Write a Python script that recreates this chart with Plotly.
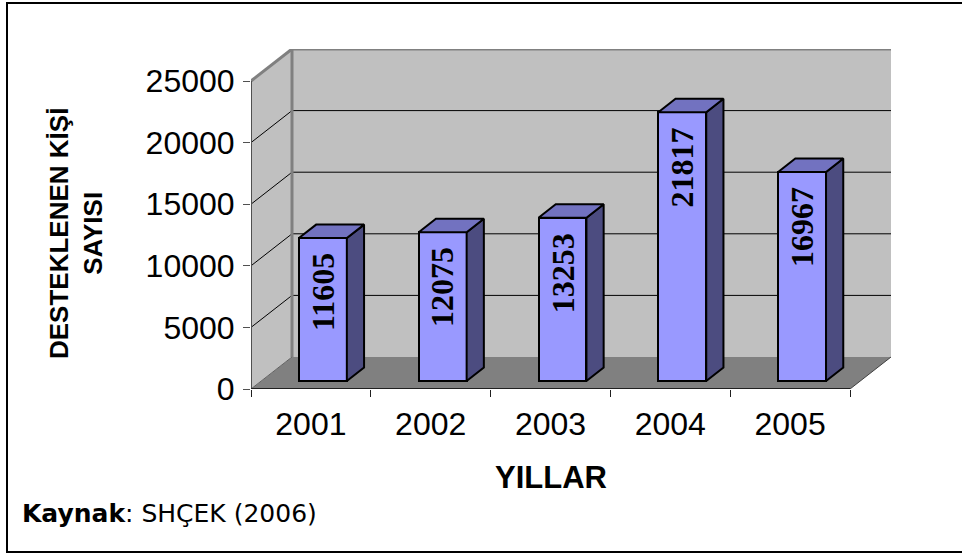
"""Excel-style 3D column chart: supported people per year (SHÇEK 2006)."""

import plotly.graph_objects as go

W, H = 962, 556

years = ["2001", "2002", "2003", "2004", "2005"]
values = [11605, 12075, 13253, 21817, 16967]
y_ticks = [0, 5000, 10000, 15000, 20000, 25000]

# plot box in pixels (front-left corner of the 3D box)
L, R, T, B = 251, 71, 49, 167
PX_PER_CAT = 119.8
PX_PER_VAL = 308 / 25000
DEPTH_PX = (41, 32)
DX = DEPTH_PX[0] / PX_PER_CAT
DY = DEPTH_PX[1] / PX_PER_VAL
X0, X1 = -0.5, len(years) - 0.5
YMAX = y_ticks[-1]

BAR_W = 0.40
BAR_SHIFT = 0.10
BAR_Z0 = 0.25
BAR_D = 0.42

FRONT = "#9999ff"
SIDE = "#4c4c80"
TOP = "#7272c0"
WALL = "#c0c0c0"
FLOOR = "#808080"
EDGE = "#808080"


def px_x(px):
    return (px - L) / (W - L - R)


def px_y(py):
    return (H - B - py) / (H - T - B)


def poly(pts):
    return "M " + " L ".join(f"{x},{y}" for x, y in pts) + " Z"


shapes = []
# floor
shapes.append(dict(type="path", layer="below", fillcolor=FLOOR, line=dict(width=0),
                   path=poly([(X0, 0), (X1, 0), (X1 + DX, DY), (X0 + DX, DY)])))
# left wall
shapes.append(dict(type="path", layer="below", fillcolor=WALL, line=dict(width=0),
                   path=poly([(X0, 0), (X0 + DX, DY), (X0 + DX, YMAX + DY), (X0, YMAX)])))
# back wall
shapes.append(dict(type="path", layer="below", fillcolor=WALL, line=dict(width=0),
                   path=poly([(X0 + DX, DY), (X1 + DX, DY), (X1 + DX, YMAX + DY), (X0 + DX, YMAX + DY)])))
# gridlines on back and left walls
for v in y_ticks[1:-1]:
    shapes.append(dict(type="line", layer="below", x0=X0 + DX, x1=X1 + DX, y0=v + DY, y1=v + DY,
                       line=dict(color="black", width=1)))
for v in y_ticks[1:-1]:
    shapes.append(dict(type="line", layer="below", x0=X0, x1=X0 + DX, y0=v, y1=v + DY,
                       line=dict(color="black", width=1)))
# wall edges
shapes.append(dict(type="line", layer="below", x0=X0 + DX, x1=X0 + DX, y0=DY, y1=YMAX + DY,
                   line=dict(color=EDGE, width=3)))
shapes.append(dict(type="line", layer="below", x0=X0 + DX, x1=X1 + DX, y0=YMAX + DY, y1=YMAX + DY,
                   line=dict(color=EDGE, width=3)))
shapes.append(dict(type="line", layer="below", x0=X0, x1=X0 + DX, y0=YMAX, y1=YMAX + DY,
                   line=dict(color=EDGE, width=3)))
shapes.append(dict(type="line", layer="below", x0=X0, x1=X0 + DX, y0=0, y1=DY,
                   line=dict(color="#606060", width=1)))
shapes.append(dict(type="line", layer="below", x0=X1, x1=X1 + DX, y0=0, y1=DY,
                   line=dict(color="#404040", width=1)))
# front axes
shapes.append(dict(type="line", layer="above", x0=X0, x1=X0, y0=0, y1=YMAX,
                   line=dict(color="#505050", width=2)))
shapes.append(dict(type="line", layer="above", x0=X0, x1=X1, y0=0, y1=0,
                   line=dict(color="#202020", width=2)))
# outer frame
shapes.append(dict(type="rect", xref="paper", yref="paper", layer="below",
                   x0=px_x(7), x1=px_x(975), y0=px_y(3), y1=px_y(552),
                   line=dict(color="black", width=2)))

fig = go.Figure()

xs = [i + BAR_SHIFT for i in range(len(years))]
base = BAR_Z0 * DY
fig.add_trace(go.Bar(
    x=xs, y=values, base=[base] * len(values), width=BAR_W,
    marker=dict(color=FRONT, line=dict(color="black", width=2)),
    hoverinfo="skip", showlegend=False,
))

ddx, ddy = BAR_D * DX, BAR_D * DY
for x, v in zip(xs, values):
    xl, xr = x - BAR_W / 2, x + BAR_W / 2
    bot, top = base, base + v
    side = [(xr, bot), (xr + ddx, bot + ddy), (xr + ddx, top + ddy), (xr, top), (xr, bot)]
    lid = [(xl, top), (xr, top), (xr + ddx, top + ddy), (xl + ddx, top + ddy), (xl, top)]
    for pts, col in ((side, SIDE), (lid, TOP)):
        fig.add_trace(go.Scatter(
            x=[p[0] for p in pts], y=[p[1] for p in pts], mode="lines", fill="toself",
            fillcolor=col, line=dict(color="black", width=2), hoverinfo="skip", showlegend=False,
        ))

axis_font = dict(family="Liberation Sans, Arial", size=32, color="black")

annotations = [
    dict(text=str(v), x=x, y=base + v, xref="x", yref="y", xanchor="center", yanchor="top",
         yshift=-13, textangle=-90, showarrow=False,
         font=dict(family="Liberation Serif", size=32, color="black", weight="bold"))
    for x, v in zip(xs, values)
]
annotations += [
    dict(text="DESTEKLENEN KİŞİ<br>SAYISI", xref="paper", yref="paper",
         x=px_x(76), y=px_y(234), xanchor="center", yanchor="middle",
         textangle=-90, showarrow=False,
         font=dict(family="Liberation Sans, Arial", size=26, color="black", weight="bold")),
    dict(text="YILLAR", xref="paper", yref="paper", x=px_x(551), y=px_y(477),
         xanchor="center", yanchor="middle", showarrow=False,
         font=dict(family="Liberation Sans, Arial", size=31, color="black", weight="bold")),
    dict(text="<b>Kaynak</b>: SHÇEK (2006)", xref="paper", yref="paper", x=px_x(20), y=px_y(513),
         xanchor="left", yanchor="middle", showarrow=False,
         font=dict(family="DejaVu Sans, Verdana", size=25, color="black")),
]

fig.update_layout(
    width=W, height=H,
    margin=dict(l=L, r=R, t=T, b=B, pad=0, autoexpand=False),
    paper_bgcolor="white", plot_bgcolor="rgba(0,0,0,0)",
    shapes=shapes, annotations=annotations,
    bargap=0,
    xaxis=dict(range=[X0, X1 + DX], tickvals=list(range(len(years))), ticktext=years,
               ticks="", showgrid=False, zeroline=False, showline=False, tickfont=axis_font,
               ticklabelstandoff=13,
               minor=dict(tickvals=[i - 0.5 for i in range(len(years) + 1)], ticks="outside",
                          ticklen=7, tickcolor="#202020", tickwidth=1, showgrid=False)),
    yaxis=dict(range=[0, YMAX + DY], tickvals=y_ticks, ticktext=[str(t) for t in y_ticks],
               ticks="outside", ticklen=7,
               tickcolor="#505050", showgrid=False, zeroline=False, showline=False,
               tickfont=axis_font, ticklabelstandoff=2),
)

# the page body has a default 8px margin; drop it so the figure sits at the window origin
fig.write_html("out.html", config={"displayModeBar": False},
               post_script="document.body.style.margin='0px';")
